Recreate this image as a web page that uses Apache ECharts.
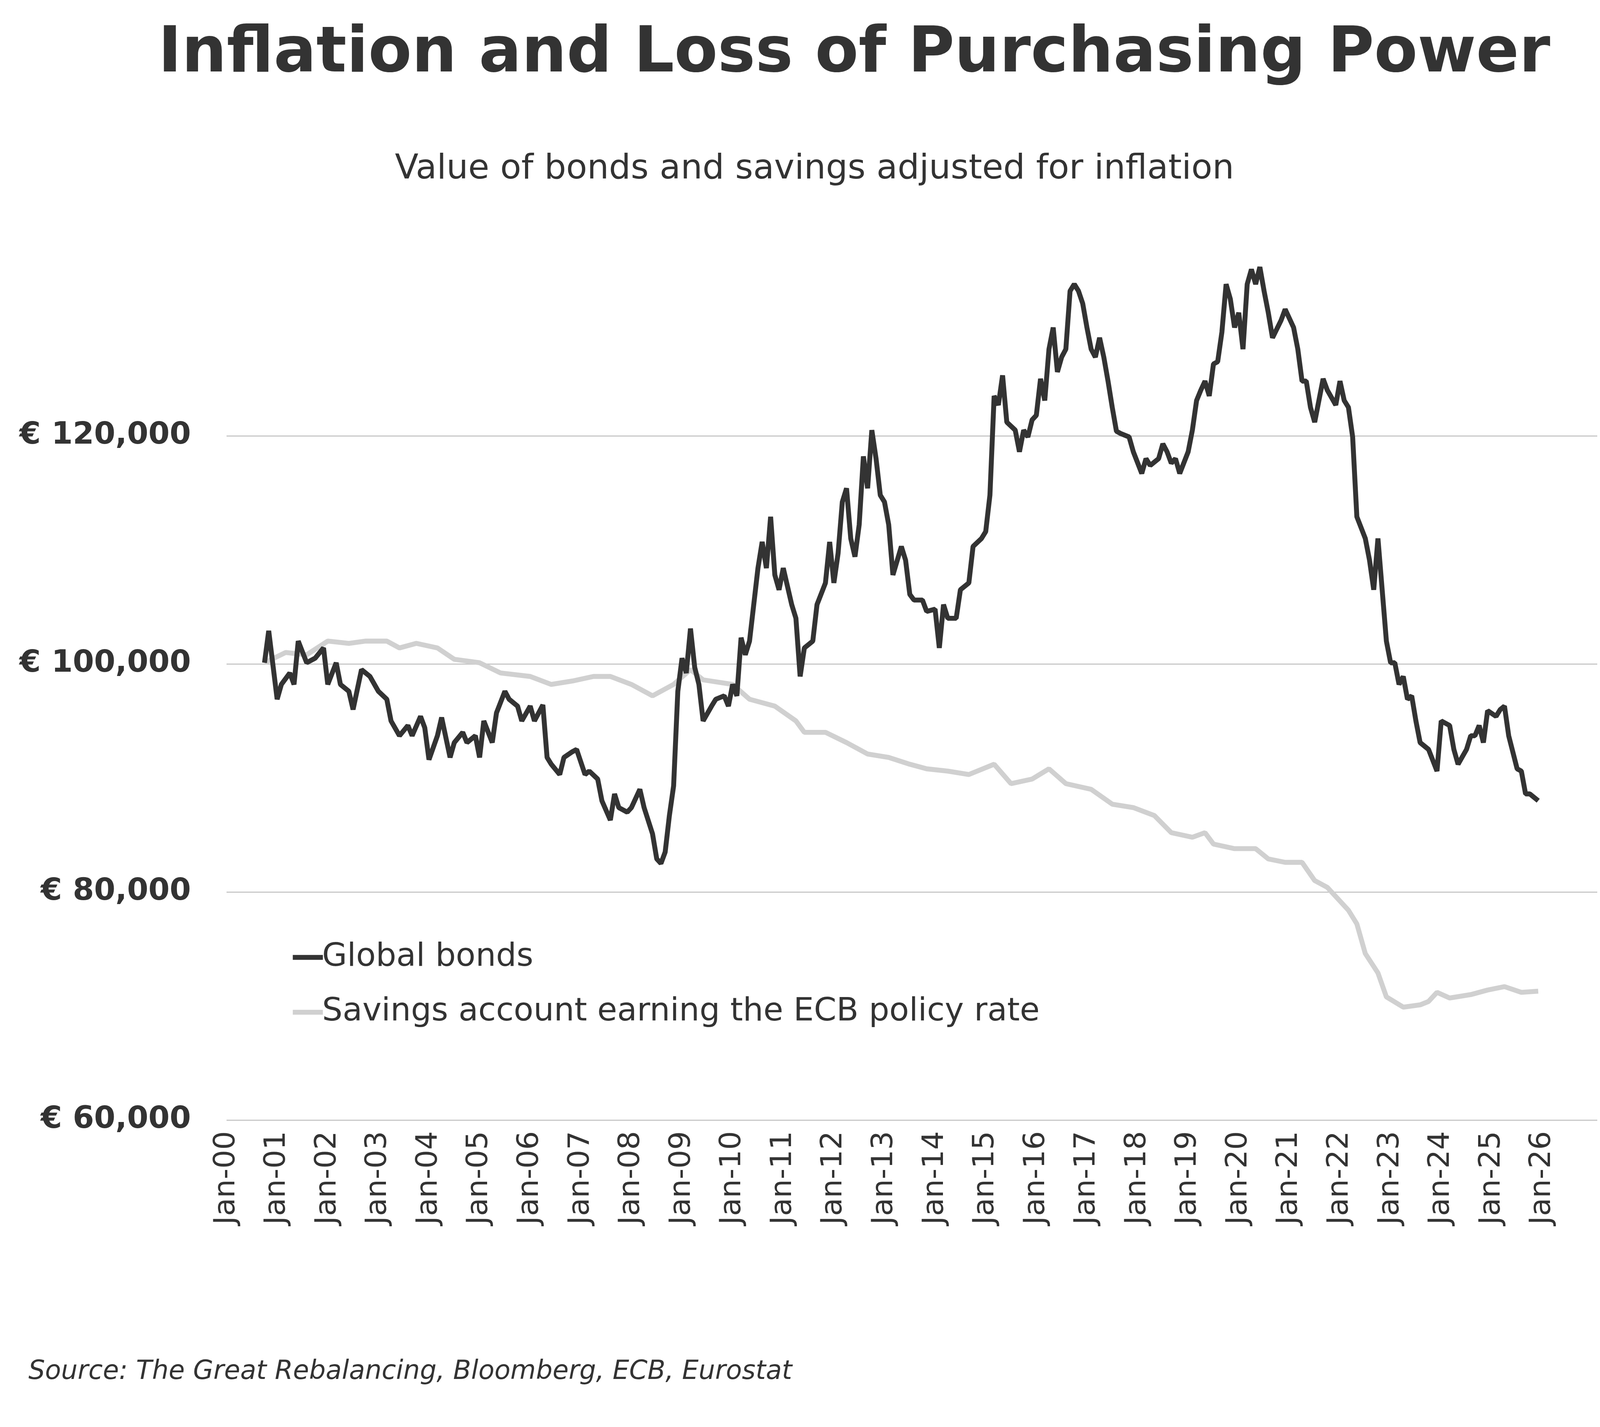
<!DOCTYPE html>
<html><head><meta charset="utf-8">
<script src="https://cdn.jsdelivr.net/npm/echarts@6/dist/echarts.min.js"></script>
<style>html,body{margin:0;padding:0;background:#fff;overflow:hidden}#c{width:100vw;height:100vh}</style>
</head><body><div id="c"></div>
<script>
// months since Jan-2000
const bondMonths=[9,10,12,13,15,16,17,19,21,23,24,26,27,29,30,32,34,36,38,39,41,43,44,46,47,48,50,51,53,54,56,57,59,60,61,63,64,66,67,69,70,72,73,75,76,77,79,80,82,83,85,86,88,89,91,92,93,95,96,98,99,101,102,103,104,105,106,107,108,109,110,111,112,113,115,116,118,119,120,121,122,123,124,126,127,128,129,130,131,132,134,135,136,137,139,140,142,143,144,145,146,147,148,149,150,151,152,153,154,155,156,157,158,160,161,162,163,165,166,168,169,170,171,173,174,176,177,179,180,181,182,183,184,185,187,188,189,190,191,192,193,194,195,196,197,198,199,200,201,202,203,204,205,206,207,208,209,210,211,212,214,215,217,218,219,221,222,223,224,225,226,228,229,230,231,232,233,234,235,236,237,238,239,240,241,242,243,244,245,246,247,248,250,251,253,254,255,256,257,258,260,261,263,264,265,266,267,268,270,271,272,273,274,275,276,277,278,279,280,281,282,283,285,287,288,290,291,292,294,295,296,297,298,299,301,302,303,304,306,307,308,309,310,311];
const bondValues=[100.1,102.9,96.9,98.2,99.2,98.2,102.0,100.1,100.5,101.4,98.2,100.1,98.2,97.6,96.0,99.5,98.9,97.6,96.9,95.0,93.7,94.6,93.7,95.4,94.4,91.6,93.7,95.3,91.8,93.1,94.0,93.1,93.7,91.8,95.0,93.1,95.7,97.6,96.9,96.3,95.0,96.3,95.0,96.4,91.8,91.2,90.3,91.8,92.3,92.5,90.3,90.6,89.9,88.0,86.3,88.6,87.4,87.0,87.4,89.0,87.4,85.1,82.9,82.5,83.5,86.7,89.3,97.6,100.5,99.2,103.1,99.7,98.2,95.0,96.3,96.9,97.2,96.3,98.2,97.2,102.3,100.8,102.0,108.4,110.7,108.4,112.9,107.8,106.5,108.4,105.2,104.0,98.9,101.4,102.0,105.2,107.1,110.7,107.1,109.7,114.2,115.4,111.0,109.4,112.2,118.2,115.4,120.5,118.0,114.8,114.2,112.2,107.8,110.3,109.1,106.1,105.6,105.6,104.6,104.8,101.4,105.2,104.0,104.0,106.5,107.1,110.3,111.0,111.6,114.8,123.5,122.7,125.3,121.2,120.5,118.6,120.5,119.9,121.4,121.8,125.0,123.1,127.6,129.5,125.6,126.9,127.6,132.7,133.3,132.7,131.6,129.5,127.6,126.9,128.6,126.9,124.8,122.5,120.4,120.2,119.9,118.6,116.7,118.0,117.4,118.0,119.3,118.6,117.6,118.0,116.7,118.6,120.5,123.1,124.0,124.8,123.5,126.3,126.5,129.1,133.3,132.0,129.5,130.8,127.6,133.3,134.6,133.3,134.8,132.7,130.8,128.6,130.1,131.1,129.5,127.6,124.8,124.8,122.5,121.2,125.0,124.0,122.7,124.8,123.1,122.5,119.9,112.9,111.0,109.1,106.5,111.0,106.5,102.0,100.1,100.1,98.2,98.9,96.9,97.2,95.0,93.1,92.5,90.6,95.0,94.6,92.5,91.2,92.5,93.7,93.7,94.6,93.1,95.9,95.4,96.0,96.3,93.7,90.8,90.6,88.6,88.6,88.3,88.0];
const saveMonths=[9,14,19,24,29,33,38,41,45,50,54,60,65,72,77,82,87,91,96,101,106,110,113,120,124,130,135,137,142,147,152,157,162,166,171,176,182,186,191,195,199,205,210,215,220,224,229,232,234,239,244,247,251,255,258,261,266,268,270,273,275,279,283,285,287,290,295,299,303,307,311];
const saveValues=[100.1,101.0,100.8,102.0,101.8,102.0,102.0,101.4,101.8,101.4,100.4,100.1,99.2,98.9,98.2,98.5,98.9,98.9,98.2,97.2,98.2,99.5,98.6,98.2,96.9,96.3,95.0,94.0,94.0,93.1,92.1,91.8,91.2,90.8,90.6,90.3,91.2,89.5,89.9,90.8,89.5,89.0,87.7,87.4,86.7,85.2,84.8,85.2,84.2,83.8,83.8,82.9,82.6,82.6,81.0,80.4,78.4,77.2,74.6,72.9,70.8,69.9,70.1,70.4,71.2,70.7,71.0,71.4,71.7,71.2,71.3];
const seriesNames=['Global bonds','Savings account earning the ECB policy rate'];
const pair=(m,v)=>m.map((x,i)=>[x,v[i]*1000]);
const F='DejaVu Sans';
const el=document.getElementById('c');
const W=el.clientWidth||window.innerWidth, H=el.clientHeight||window.innerHeight;
const sx=W/5848, sy=H/3654, s=Math.min(sx,sy);
const chart=echarts.init(el);
chart.setOption({
  backgroundColor:'#fff',animation:false,
  graphic:[
    {type:'text',x:3122*sx,y:60*sy,style:{text:'Inflation and Loss of Purchasing Power',font:'bold '+Math.round(232*s)+'px "DejaVu Sans"',fill:'#333',textAlign:'center'}},
    {type:'text',x:2977*sx,y:390*sy,style:{text:'Value of bonds and savings adjusted for inflation',font:Math.round(125*s)+'px "DejaVu Sans"',fill:'#333',textAlign:'center'}},
    {type:'text',x:104*sx,y:3480*sy,style:{text:'Source: The Great Rebalancing, Bloomberg, ECB, Eurostat',font:'italic '+Math.round(96*s)+'px "DejaVu Sans"',fill:'#333'}}
  ],
  grid:{left:828*sx,right:10*sx,top:532*sy,bottom:786*sy,containLabel:false},
  legend:{orient:'vertical',left:1063*sx,top:2405*sy,itemGap:82*s,itemWidth:110*s,itemHeight:18*s,icon:'rect',
    textStyle:{fontFamily:F,fontSize:118*s,color:'#333',padding:[0,0,0,-10*s]},data:seriesNames},
  xAxis:{type:'value',min:0,max:325,interval:12,
    axisLine:{show:false},axisTick:{show:false},splitLine:{show:false},
    axisLabel:{rotate:90,margin:40*s,fontFamily:F,fontSize:108*s,color:'#333',
      formatter:v=>v>312?'':'Jan-'+String(v/12).padStart(2,'0')}},
  yAxis:{type:'value',min:60000,max:140000,interval:20000,
    axisLine:{show:false},axisTick:{show:false},
    splitLine:{lineStyle:{color:['#c8c8c8','#c8c8c8','#c8c8c8','#c8c8c8','rgba(0,0,0,0)'],width:4*s}},
    axisLabel:{margin:130*s,fontFamily:F,fontWeight:'bold',fontSize:112*s,color:'#333',
      formatter:v=>v>=140000?'':'€ '+v.toLocaleString('en-US')}},
  series:[
    {name:seriesNames[0],type:'line',data:pair(bondMonths,bondValues),showSymbol:false,z:3,
      lineStyle:{color:'#333',width:18*s},itemStyle:{color:'#333'}},
    {name:seriesNames[1],type:'line',data:pair(saveMonths,saveValues),showSymbol:false,z:2,
      lineStyle:{color:'#d0d0d0',width:18*s},itemStyle:{color:'#d0d0d0'}}
  ]
});
</script></body></html>
